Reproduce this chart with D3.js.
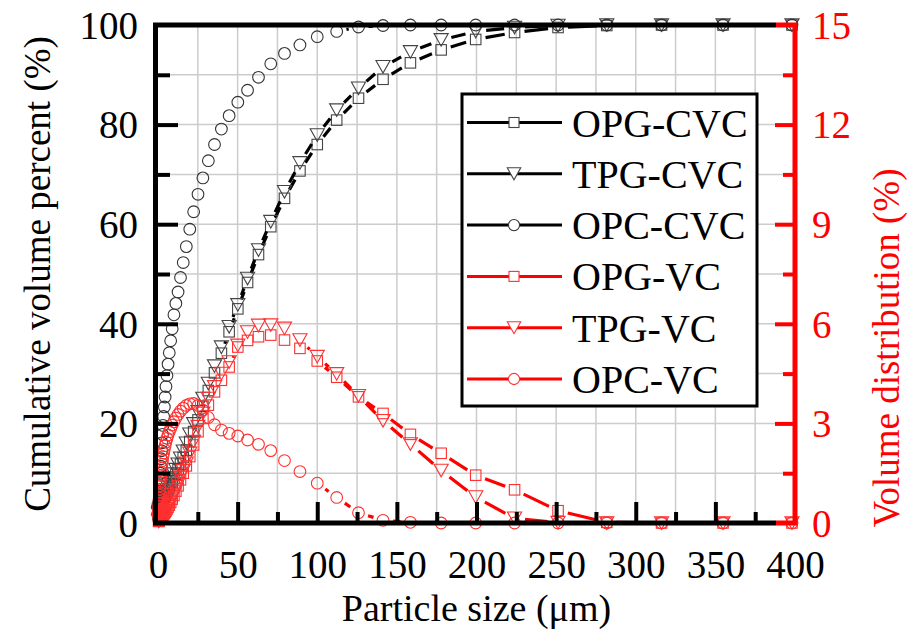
<!DOCTYPE html>
<html>
<head>
<meta charset="utf-8">
<script src="https://cdn.jsdelivr.net/npm/d3@7"></script>
<style>
  body { margin: 0; background: #fff; }
  svg text { font-family: "Liberation Serif", "Times New Roman", serif; }
</style>
</head>
<body>
<div id="chart"></div>
<script>
// particle size bins (um)
var particleSize = [
  0.398, 0.447, 0.501, 0.562, 0.631, 0.708, 0.794, 0.891, 1.000, 1.122,
  1.259, 1.413, 1.585, 1.778, 1.995, 2.239, 2.512, 2.818, 3.162, 3.548,
  3.981, 4.467, 5.012, 5.623, 6.310, 7.079, 7.943, 8.913, 10.00, 11.22,
  12.59, 14.13, 15.85, 17.78, 19.95, 22.39, 25.12, 28.18, 31.62, 35.48,
  39.81, 44.67, 50.12, 56.23, 63.10, 70.80, 79.43, 89.13, 100.0, 112.2,
  125.9, 141.3, 158.5, 177.8, 199.5, 223.9, 251.2, 281.8, 316.2, 354.8,
  398.1
];

// cumulative volume percent (%), left axis
var opgCvc = [
  2.42, 2.47, 2.52, 2.58, 2.65, 2.73, 2.82, 2.92, 3.03, 3.15,
  3.28, 3.42, 3.57, 3.73, 3.90, 4.08, 4.27, 4.47, 4.69, 4.93,
  5.19, 5.48, 5.80, 6.16, 6.57, 7.04, 7.58, 8.20, 8.92, 9.75,
  10.71, 11.83, 13.13, 14.63, 16.35, 18.35, 20.70, 23.45, 26.60, 30.15,
  34.10, 38.40, 43.00, 48.30, 53.90, 59.50, 65.20, 70.70, 76.00, 80.90,
  85.30, 89.10, 92.40, 95.00, 97.10, 98.50, 99.50, 99.90, 100, 100,
  100
];
var tpgCvc = [
  1.75, 1.83, 1.92, 2.02, 2.13, 2.25, 2.38, 2.52, 2.67, 2.83,
  3.00, 3.18, 3.37, 3.57, 3.78, 4.00, 4.25, 4.50, 4.80, 5.10,
  5.43, 5.80, 6.20, 6.65, 7.15, 7.70, 8.30, 9.00, 9.80, 10.70,
  11.80, 13.00, 14.40, 16.00, 17.80, 19.90, 22.30, 25.00, 28.00, 31.50,
  35.30, 39.40, 43.80, 49.10, 54.80, 60.50, 66.50, 72.30, 77.90, 82.90,
  87.30, 91.60, 94.60, 97.00, 98.70, 99.50, 99.90, 100, 100, 100,
  100
];
var opcCvc = [
  0.70, 1.00, 1.40, 1.90, 2.40, 3.00, 3.70, 4.50, 5.40, 6.40,
  7.50, 8.70, 10.00, 11.40, 12.90, 14.50, 16.10, 17.80, 19.60, 21.40,
  23.30, 25.30, 27.40, 29.60, 31.90, 34.20, 36.60, 39.00, 41.80, 44.10,
  46.40, 49.30, 52.30, 55.50, 59.00, 62.50, 66.00, 69.30, 72.75, 76.00,
  79.10, 81.80, 84.50, 86.90, 89.50, 92.20, 94.30, 96.00, 97.65, 98.70,
  99.60, 99.90, 100, 100, 100, 100, 100, 100, 100, 100,
  100
];

// volume distribution (%), right axis
var opgVc = [
  0.05, 0.05, 0.06, 0.07, 0.08, 0.09, 0.10, 0.11, 0.12, 0.13,
  0.14, 0.15, 0.16, 0.17, 0.18, 0.19, 0.20, 0.22, 0.24, 0.26,
  0.29, 0.32, 0.36, 0.41, 0.47, 0.54, 0.62, 0.72, 0.83, 0.96,
  1.12, 1.30, 1.50, 1.72, 2.00, 2.35, 2.75, 3.15, 3.55, 3.95,
  4.30, 4.70, 5.30, 5.50, 5.61, 5.66, 5.51, 5.26, 4.88, 4.39,
  3.80, 3.30, 2.67, 2.10, 1.44, 1.00, 0.37, 0.02, 0, 0,
  0
];
var tpgVc = [
  0.05, 0.06, 0.07, 0.08, 0.09, 0.10, 0.11, 0.12, 0.13, 0.14,
  0.15, 0.16, 0.17, 0.18, 0.19, 0.20, 0.21, 0.23, 0.25, 0.27,
  0.30, 0.33, 0.37, 0.42, 0.48, 0.55, 0.63, 0.74, 0.86, 1.00,
  1.18, 1.38, 1.57, 1.80, 2.10, 2.45, 2.90, 3.30, 3.75, 4.10,
  4.50, 4.85, 5.35, 5.75, 5.95, 5.96, 5.86, 5.51, 5.01, 4.49,
  3.83, 3.08, 2.38, 1.58, 0.78, 0.14, 0.01, 0, 0, 0,
  0
];
var opcVc = [
  0.30, 0.35, 0.42, 0.50, 0.58, 0.66, 0.75, 0.84, 0.93, 1.02,
  1.12, 1.22, 1.32, 1.43, 1.54, 1.65, 1.77, 1.88, 2.00, 2.11,
  2.22, 2.33, 2.44, 2.55, 2.65, 2.75, 2.85, 2.95, 3.05, 3.16,
  3.27, 3.37, 3.46, 3.54, 3.59, 3.60, 3.54, 3.40, 3.18, 2.96,
  2.80, 2.70, 2.62, 2.50, 2.37, 2.18, 1.88, 1.55, 1.20, 0.77,
  0.31, 0.08, 0.02, 0, 0, 0, 0, 0, 0, 0,
  0
];

var seriesNames = ['OPG-CVC', 'TPG-CVC', 'OPC-CVC', 'OPG-VC', 'TPG-VC', 'OPC-VC'];
var xTicks = [0, 50, 100, 150, 200, 250, 300, 350, 400];
var leftTicks = [0, 20, 40, 60, 80, 100];
var rightTicks = [0, 3, 6, 9, 12, 15];

var width = 913, height = 633;
var red = '#ff0000';

var x = d3.scaleLinear().domain([0, 400]).range([158, 795]);
var yLeft = d3.scaleLinear().domain([0, 100]).range([523, 25]);
var yRight = d3.scaleLinear().domain([0, 15]).range([523, 25]);

var svg = d3.select('#chart').append('svg')
  .attr('width', width)
  .attr('height', height);

// grid
var grid = svg.append('g').attr('class', 'grid')
  .attr('stroke', '#cccccc')
  .attr('stroke-width', 1.5);
grid.selectAll('.gx')
  .data(d3.range(25, 400, 25))
  .enter().append('line')
  .attr('x1', function(d) { return x(d); })
  .attr('x2', function(d) { return x(d); })
  .attr('y1', yLeft(0)).attr('y2', yLeft(100));
grid.selectAll('.gy')
  .data(d3.range(10, 100, 10))
  .enter().append('line')
  .attr('y1', function(d) { return yLeft(d); })
  .attr('y2', function(d) { return yLeft(d); })
  .attr('x1', x(0)).attr('x2', x(400));

var series = [
  {name: seriesNames[0], values: opgCvc, y: yLeft, line: '#000', mark: '#444', shape: 'square'},
  {name: seriesNames[1], values: tpgCvc, y: yLeft, line: '#000', mark: '#444', shape: 'triangle'},
  {name: seriesNames[2], values: opcCvc, y: yLeft, line: '#000', mark: '#333', shape: 'circle'},
  {name: seriesNames[3], values: opgVc, y: yRight, line: red, mark: '#ff3030', shape: 'square'},
  {name: seriesNames[4], values: tpgVc, y: yRight, line: red, mark: '#ff3030', shape: 'triangle'},
  {name: seriesNames[5], values: opcVc, y: yRight, line: red, mark: '#ff3030', shape: 'circle'}
];

function addMarker(g, shape, s) {
  if (shape === 'square') {
    return g.append('rect').attr('x', -s / 2).attr('y', -s / 2).attr('width', s).attr('height', s);
  } else if (shape === 'triangle') {
    var w = s * 1.35, h = s * 1.2;
    return g.append('path').attr('d', 'M' + (-w / 2) + ',' + (-h / 2) + 'L' + (w / 2) + ',' + (-h / 2) + 'L0,' + (h / 2) + 'Z');
  }
  return g.append('circle').attr('r', s / 2 + 0.6);
}

// lines are broken around each marker, like the original
function gappedPath(pts, gap) {
  var p = d3.path();
  for (var i = 1; i < pts.length; i++) {
    var a = pts[i - 1], b = pts[i];
    var dx = b[0] - a[0], dy = b[1] - a[1];
    var d = Math.sqrt(dx * dx + dy * dy);
    if (d <= 2 * gap + 1.5) continue;
    var ux = dx / d, uy = dy / d;
    p.moveTo(a[0] + ux * gap, a[1] + uy * gap);
    p.lineTo(b[0] - ux * gap, b[1] - uy * gap);
  }
  return p.toString();
}

var plot = svg.append('g').attr('class', 'plot');

series.forEach(function(s) {
  var pts = s.values.map(function(v, i) { return [x(particleSize[i]), s.y(v)]; });
  var g = plot.append('g').attr('class', 'series');
  g.append('path')
    .attr('d', gappedPath(pts, s.shape === 'triangle' ? 10.5 : 10))
    .attr('fill', 'none')
    .attr('stroke', s.line)
    .attr('stroke-width', 3.2);
  g.selectAll('.m')
    .data(pts)
    .enter().append('g')
    .attr('transform', function(d) { return 'translate(' + d[0] + ',' + d[1] + ')'; })
    .each(function() {
      addMarker(d3.select(this), s.shape, 10.5)
        .attr('fill', 'none')
        .attr('stroke', s.mark)
        .attr('stroke-width', 1.1);
    });
});

// axes
var fontSize = 39;

var xAxis = svg.append('g')
  .attr('transform', 'translate(0,' + yLeft(0) + ')')
  .call(d3.axisBottom(x).tickValues(xTicks).tickSize(-21).tickSizeOuter(0).tickPadding(27));
svg.append('g')
  .attr('transform', 'translate(0,' + yLeft(0) + ')')
  .call(d3.axisBottom(x).tickValues(d3.range(25, 400, 50)).tickSize(-11).tickSizeOuter(0).tickFormat(''));

var leftAxis = svg.append('g')
  .attr('transform', 'translate(' + x(0) + ',0)')
  .call(d3.axisLeft(yLeft).tickValues(leftTicks).tickSize(-20).tickSizeOuter(0).tickPadding(20));
svg.append('g')
  .attr('transform', 'translate(' + x(0) + ',0)')
  .call(d3.axisLeft(yLeft).tickValues(d3.range(10, 100, 20)).tickSize(-12).tickSizeOuter(0).tickFormat(''));

var rightAxis = svg.append('g')
  .attr('transform', 'translate(' + x(400) + ',0)')
  .call(d3.axisRight(yRight).tickValues(rightTicks).tickSize(-20).tickSizeOuter(0).tickPadding(17));
var rightMinor = svg.append('g')
  .attr('transform', 'translate(' + x(400) + ',0)')
  .call(d3.axisRight(yRight).tickValues(d3.range(1.5, 15, 3)).tickSize(-12).tickSizeOuter(0).tickFormat(''));

svg.selectAll('.domain').remove();
svg.selectAll('.tick line').attr('stroke', '#000').attr('stroke-width', 4);
svg.selectAll('.tick text')
  .attr('font-family', '"Liberation Serif", serif')
  .attr('font-size', fontSize)
  .attr('fill', '#000');
leftAxis.selectAll('.tick text').attr('dy', '0.34em');
xAxis.selectAll('.tick').filter(function(d) { return d === 0 || d === 400; }).select('line').remove();
leftAxis.selectAll('.tick').filter(function(d) { return d === 0 || d === 100; }).select('line').remove();
rightAxis.selectAll('.tick line').attr('stroke', red);
rightMinor.selectAll('.tick line').attr('stroke', red);
rightAxis.selectAll('.tick text').attr('fill', red).attr('dy', '0.34em');
rightAxis.selectAll('.tick').filter(function(d) { return d === 0 || d === 15; }).select('line').remove();

// frame
var frame = svg.append('g').attr('class', 'frame').attr('fill', 'none');
var xr = x(400) - 19;
frame.append('path')
  .attr('d', 'M' + xr + ',' + yLeft(100) + 'H' + (x(0) - 2.5) + 'V' + (yLeft(0) + 2.5) + 'M' + (x(0) - 2.5) + ',' + yLeft(0) + 'H' + xr)
  .attr('stroke', '#000').attr('stroke-width', 5);
frame.append('path')
  .attr('d', 'M' + xr + ',' + yLeft(100) + 'H' + x(400) + 'V' + yLeft(0) + 'H' + xr)
  .attr('stroke', red).attr('stroke-width', 5);

// axis titles
svg.append('text')
  .attr('transform', 'translate(50,' + ((yLeft(0) + yLeft(100)) / 2) + ') rotate(-90)')
  .attr('text-anchor', 'middle')
  .attr('font-size', 37)
  .text('Cumulative volume percent (%)');
svg.append('text')
  .attr('x', (x(0) + x(400)) / 2)
  .attr('y', 621)
  .attr('text-anchor', 'middle')
  .attr('font-size', 38)
  .text('Particle size (\u03bcm)');
svg.append('text')
  .attr('transform', 'translate(899,' + 348 + ') rotate(-90)')
  .attr('text-anchor', 'middle')
  .attr('font-size', 37)
  .attr('fill', red)
  .text('Volume distribution (%)');

// legend
var legend = svg.append('g').attr('class', 'legend');
legend.append('rect')
  .attr('x', 462).attr('y', 94)
  .attr('width', 295).attr('height', 312)
  .attr('fill', '#fff')
  .attr('stroke', '#000')
  .attr('stroke-width', 3);
var rows = legend.selectAll('.row')
  .data(series)
  .enter().append('g')
  .attr('transform', function(d, i) { return 'translate(0,' + (122.5 + i * 51.3) + ')'; });
rows.append('line')
  .attr('x1', 467).attr('x2', 562)
  .attr('stroke', function(d) { return d.line; })
  .attr('stroke-width', 3);
rows.each(function(d) {
  var m = d3.select(this).append('g').attr('transform', 'translate(514,0)');
  addMarker(m, d.shape, 10)
    .attr('fill', '#fff')
    .attr('stroke', d.mark)
    .attr('stroke-width', 1.1);
});
rows.append('text')
  .attr('x', 572)
  .attr('dy', '0.35em')
  .attr('font-size', 40)
  .text(function(d) { return d.name; });
</script>
</body>
</html>
